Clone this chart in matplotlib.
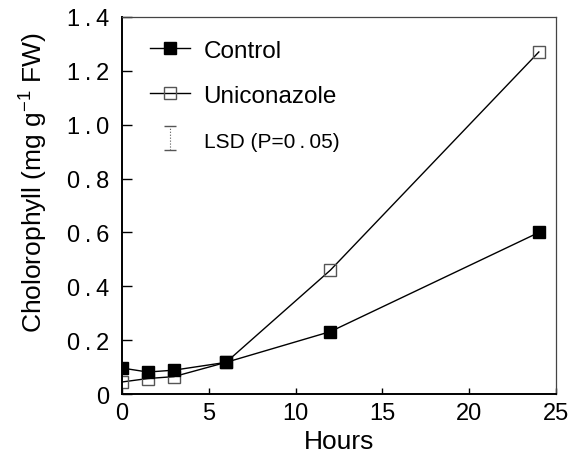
import numpy as np
import matplotlib
matplotlib.use("Agg")
import matplotlib.pyplot as plt
from matplotlib.lines import Line2D

plt.rcParams['font.family'] = ['Liberation Sans', 'DejaVu Sans']
plt.rcParams['mathtext.fontset'] = 'custom'
plt.rcParams['mathtext.rm'] = 'Liberation Sans'

# data
hours = [0, 1.5, 3, 6, 12, 24]
control = [0.097, 0.082, 0.089, 0.118, 0.232, 0.60]
uniconazole = [0.045, 0.058, 0.065, 0.118, 0.460, 1.27]
x_ticks = [0, 5, 10, 15, 20, 25]
y_ticks = [0, 0.2, 0.4, 0.6, 0.8, 1.0, 1.2, 1.4]
y_ticklabels = ['0', '0.2', '0.4', '0.6', '0.8', '1.0', '1.2', '1.4']

# the original typesetting puts a gap round the decimal point
y_ticklabels = [t.replace('.', '\u2009.\u2009') for t in y_ticklabels]

fig = plt.figure(figsize=(5.8, 4.6), dpi=100)
ax = fig.add_axes([0.21, 0.141, 0.749, 0.82])

ax.plot(hours, uniconazole, color='black', lw=1, marker='s', ms=9,
        mfc='none', mec='#555555', mew=1, ls='-', zorder=2)
ax.plot(hours, control, color='black', lw=1, marker='s', ms=9,
        mfc='black', mec='black', zorder=3)

ax.set_xlim(0, 25)
ax.set_ylim(0, 1.4)
ax.set_xticks(x_ticks)
ax.set_yticks(y_ticks)
ax.set_yticklabels(y_ticklabels)
ax.tick_params(direction='in', length=7, width=1, labelsize=17, pad=9)
ax.tick_params(axis='x', length=4, pad=6)
for s in ['left', 'bottom']:
    ax.spines[s].set_linewidth(1.4)
for s in ['top', 'right']:
    ax.spines[s].set_color('#444444')
    ax.spines[s].set_linewidth(0.9)

ax.set_xlabel('Hours', fontsize=19, labelpad=3)
ax.set_ylabel('Cholorophyll (mg g$^{-1}$ FW)', fontsize=19)
ax.yaxis.set_label_coords(-0.168, 0.563)

# legend
h_ctrl = Line2D([], [], color='black', lw=1, marker='s', ms=8, mfc='black', mec='black')
h_uni = Line2D([], [], color='black', lw=1, marker='s', ms=8, mfc='none', mec='#555555')
h_lsd = ax.errorbar([np.nan], [np.nan], yerr=[0.05], fmt='none', ecolor='#555555',
                    elinewidth=0.8, capsize=4)
h_lsd[-1][0].set_linestyle(':')
leg = ax.legend([h_ctrl, h_uni, h_lsd],
                ['Control', 'Uniconazole', 'LSD (P=0\u2009.\u200905)'],
                loc='upper left', bbox_to_anchor=(0.065, 0.94), frameon=False,
                borderpad=0, borderaxespad=0,
                fontsize=17.5, handlelength=1.65, labelspacing=0.95, handletextpad=0.55)
leg.get_texts()[2].set_fontsize(15)

fig.savefig('out.png', dpi=100)
